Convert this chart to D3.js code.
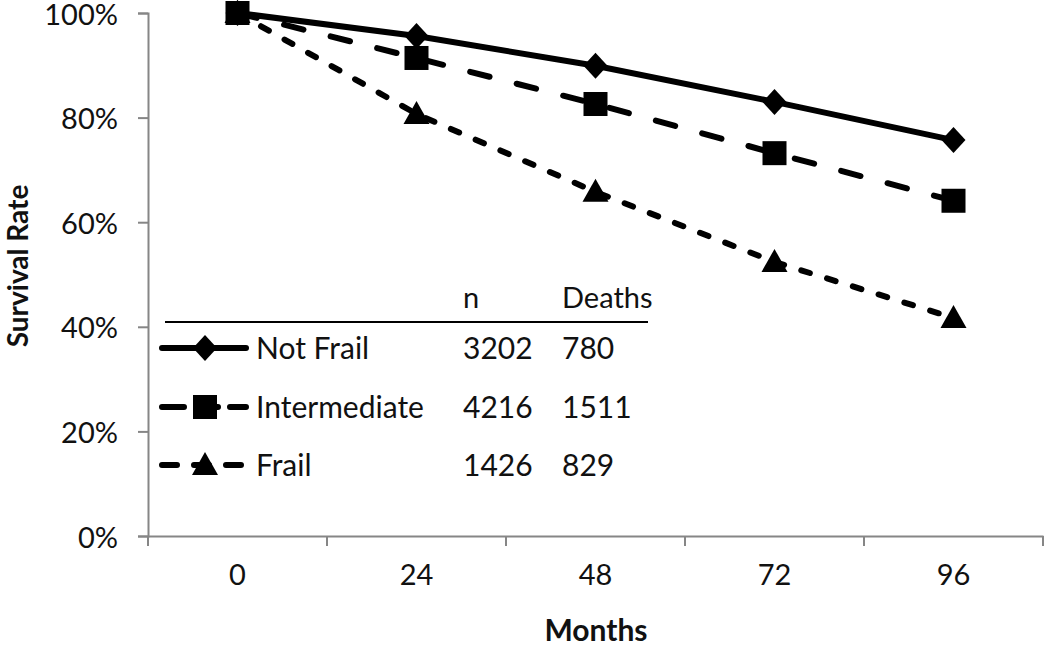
<!DOCTYPE html>
<html><head><meta charset="utf-8">
<script src="https://cdnjs.cloudflare.com/ajax/libs/d3/7.8.5/d3.min.js"></script>
<style>body{margin:0;background:#fff}svg{display:block}text{font-family:Lato,"Open Sans",sans-serif;fill:#111}</style>
</head><body><svg id="c" width="1050" height="655"></svg>
<script>
const months = ["0","24","48","72","96"];
const notFrail = [1.00, 0.956, 0.899, 0.830, 0.757];
const intermediate = [1.00, 0.914, 0.826, 0.732, 0.641];
const frail = [1.00, 0.807, 0.658, 0.524, 0.417];
const seriesNames = ["Not Frail","Intermediate","Frail"];
const nCounts = ["3202","4216","1426"];
const deaths = ["780","1511","829"];
const yTicks = [0,0.2,0.4,0.6,0.8,1.0];

const svg = d3.select("#c");
const x = d3.scaleBand().domain(months).range([148,1043]).padding(0);
const y = d3.scaleLinear().domain([0,1]).range([536,13]);
const cx = d => x(d)+x.bandwidth()/2;

// axes
const yAxis = svg.append("g").attr("transform","translate(148,0)")
  .call(d3.axisLeft(y).tickValues(yTicks).tickFormat(d3.format(".0%")).tickSize(10).tickPadding(20));
yAxis.select(".domain").attr("stroke","#868686").attr("stroke-width",2);
yAxis.selectAll(".tick line").attr("stroke","#868686").attr("stroke-width",2);
yAxis.selectAll("text").style("font-size","29px").attr("fill","#111").attr("dy","0.38em");

const xAxis = svg.append("g").attr("transform","translate(0,536)")
  .call(d3.axisBottom(x).tickSize(0).tickPadding(43));
xAxis.select(".domain").attr("stroke","#868686").attr("stroke-width",2);
xAxis.selectAll("text").style("font-size","29px").attr("fill","#111").attr("dy","0.2em");
// boundary ticks between categories
const bounds = months.map(m=>x(m)).concat([x.range()[1]]);
xAxis.selectAll(".bt").data(bounds).enter().append("line")
  .attr("x1",d=>d).attr("x2",d=>d).attr("y1",0).attr("y2",10)
  .attr("stroke","#868686").attr("stroke-width",2);

// axis titles
svg.append("text").attr("transform","translate(28,266) rotate(-90)")
  .attr("text-anchor","middle").style("font-size","28px").style("font-weight","bold").text("Survival Rate");
svg.append("text").attr("x",596).attr("y",641).attr("text-anchor","middle")
  .style("font-size","30px").style("font-weight","bold").text("Months");

const styles = [
  {vals:notFrail, dash:null, marker:"diamond"},
  {vals:intermediate, dash:"20,28", marker:"square"},
  {vals:frail, dash:"9,18", marker:"triangle"}
];
const line = d3.line().x((d,i)=>cx(months[i])).y(d=>y(d));
styles.forEach(s=>{
  svg.append("path").datum(s.vals).attr("d",line).attr("fill","none")
    .attr("stroke","#000").attr("stroke-width",6)
    .attr("stroke-linecap", s.dash? "round":"butt")
    .attr("stroke-dasharray", s.dash);
});
function marker(g, type, px, py){
  if(type==="diamond"){
    g.append("path").attr("d",`M${px},${py-13}L${px+12},${py}L${px},${py+13}L${px-12},${py}Z`).attr("fill","#000");
  } else if(type==="square"){
    g.append("rect").attr("x",px-12).attr("y",py-12).attr("width",24).attr("height",24).attr("fill","#000");
  } else {
    g.append("path").attr("d",`M${px},${py-13}L${px+13},${py+10}L${px-13},${py+10}Z`).attr("fill","#000");
  }
}
const mg = svg.append("g");
[2,0,1].forEach(k=>{
  const s=styles[k];
  s.vals.forEach((v,i)=>marker(mg,s.marker,cx(months[i]),y(v)));
});

// legend table
const lg = svg.append("g");
lg.append("text").attr("x",463).attr("y",298).attr("dy","0.36em").style("font-size","29px").text("n");
lg.append("text").attr("x",562).attr("y",298).attr("dy","0.36em").style("font-size","29px").text("Deaths");
lg.append("line").attr("x1",165).attr("x2",648).attr("y1",322).attr("y2",322).attr("stroke","#000").attr("stroke-width",2);
const rowY = [348,407,465];
const legendDash = [null,"22,12","15,17"];
seriesNames.forEach((nm,k)=>{
  const yy=rowY[k];
  lg.append("line").attr("x1",162).attr("x2",246).attr("y1",yy).attr("y2",yy)
    .attr("stroke","#000").attr("stroke-width",6).attr("stroke-linecap","round")
    .attr("stroke-dasharray",legendDash[k]);
  marker(lg,styles[k].marker,205,yy);
  lg.append("text").attr("x",256).attr("y",yy).attr("dy","0.36em").style("font-size","30px").text(nm);
  lg.append("text").attr("x",463).attr("y",yy).attr("dy","0.36em").style("font-size","30px").text(nCounts[k]);
  lg.append("text").attr("x",562).attr("y",yy).attr("dy","0.36em").style("font-size","30px").text(deaths[k]);
});
</script></body></html>
